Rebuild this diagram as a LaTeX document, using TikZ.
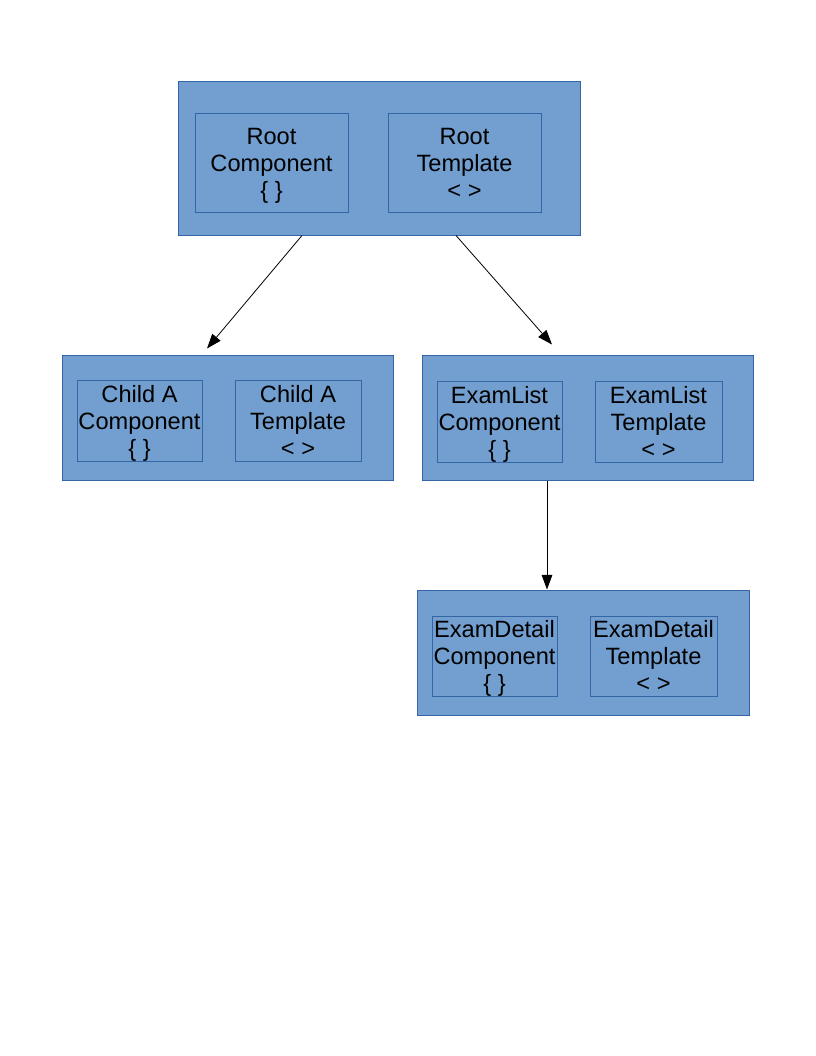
\documentclass[tikz,border=0pt]{standalone}
\usepackage{fontspec}
\setmainfont{Liberation Sans}
\usetikzlibrary{arrows.meta,calc}
\definecolor{boxfill}{HTML}{729FCF}
\definecolor{boxline}{HTML}{3465A4}
\tikzset{
  outerbox/.style={draw=boxline, fill=boxfill, line width=0.75pt, inner sep=0pt},
  innerbox/.style={draw=boxline, fill=boxfill, line width=0.6pt, inner sep=0pt,
    align=center, font=\fontsize{17.7}{20.25}\selectfont,
    text height=53.8pt, text depth=0pt,
    minimum width=93.75pt, minimum height=60.75pt},
}
\begin{document}
\begin{tikzpicture}[x=0.75pt, y=-0.75pt, >={Triangle[length=11pt,width=8pt]}]
\useasboundingbox (0,0) rectangle (816,1056);
% root
\node[outerbox, minimum width=301.5pt, minimum height=114.75pt] (root) at (379,158.5) {};
\node[innerbox, minimum width=114.75pt, minimum height=74.25pt] (rootcomp) at (271.5,162.5) {Root\\Component\\\{ \}};
\node[innerbox, minimum width=114.75pt, minimum height=74.25pt] (roottmpl) at (464.5,162.5) {Root\\Template\\< >};

% children
\node[outerbox, minimum width=248.25pt, minimum height=93.75pt] (childa) at (227.5,417.5) {};
\node[innerbox] (childacomp) at (139.5,420.5) {Child A\\Component\\\{ \}};
\node[innerbox, minimum width=94.5pt] (childatmpl) at (298,420.5) {Child A\\Template\\< >};

\node[outerbox, minimum width=248.25pt, minimum height=93.75pt] (examlist) at (587.5,417.5) {};
\node[innerbox] (examlistcomp) at (499.5,421.5) {ExamList\\Component\\\{ \}};
\node[innerbox, minimum width=95.25pt] (examlisttmpl) at (658.5,421.5) {ExamList\\Template\\< >};

\node[outerbox, minimum width=249pt, minimum height=93.75pt] (examdetail) at (583,652.5) {};
\node[innerbox, minimum height=60pt] (examdetailcomp) at (494.5,656) {ExamDetail\\Component\\\{ \}};
\node[innerbox, minimum width=95.25pt, minimum height=60pt] (examdetailtmpl) at (653.5,656) {ExamDetail\\Template\\< >};

% arrows
\coordinate (rootleft) at ($(root.south)+(-77,0)$);
\coordinate (rootright) at ($(root.south)+(77,0)$);
\coordinate (childaend) at ($(childa.north)+(-20.5,-6)$);
\coordinate (examlistend) at ($(examlist.north)+(-35.5,-10)$);
\coordinate (examlistout) at ($(examlist.south)+(-40.5,0)$);
\draw[->, line width=0.6pt] (rootleft) -- (childaend);
\draw[->, line width=0.6pt] (rootright) -- (examlistend);
\draw[->, line width=0.6pt] (examlistout) -- (examlistout |- examdetail.north);

\end{tikzpicture}
\end{document}
